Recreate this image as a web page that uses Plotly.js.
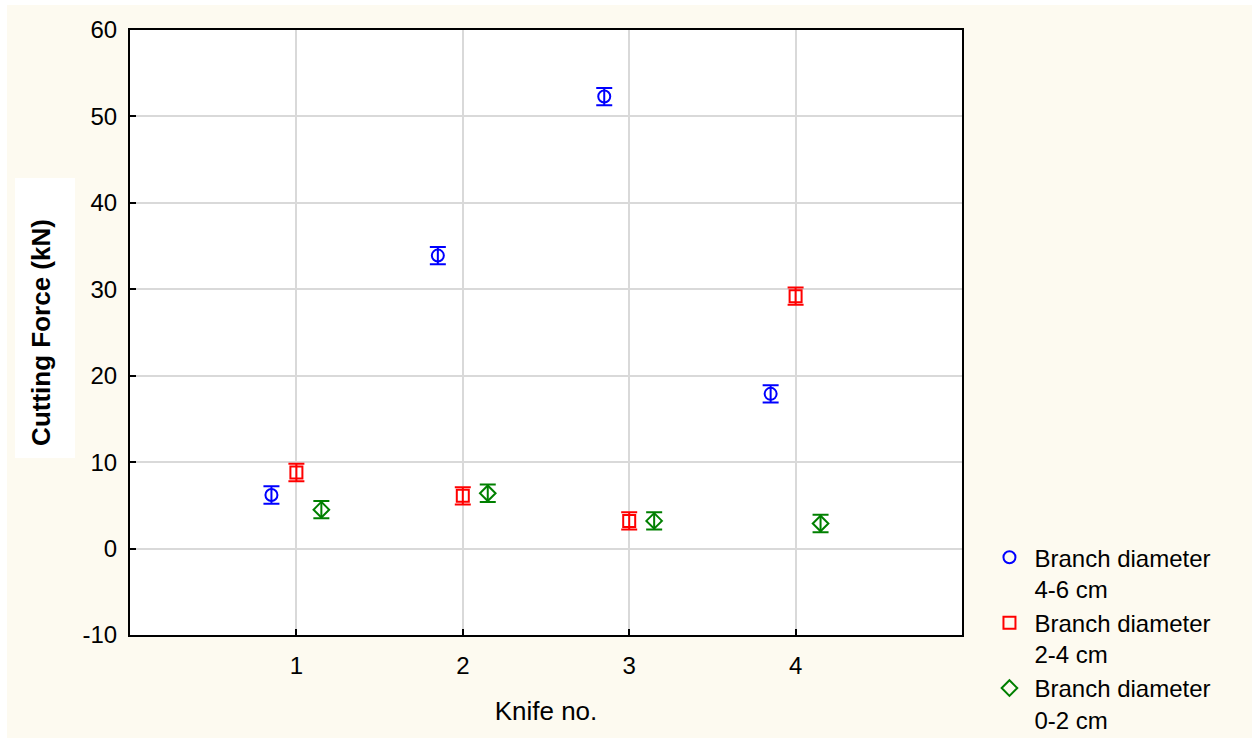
<!DOCTYPE html>
<html>
<head>
<meta charset="utf-8">
<script src="https://cdn.plot.ly/plotly-3.0.1.min.js"></script>
<style>
  html, body { margin: 0; padding: 0; background: #ffffff; width: 1256px; height: 738px; overflow: hidden; }
  #chart { position: absolute; left: 7px; top: 5px; width: 1245px; height: 733px; }
</style>
</head>
<body>
<div id="chart"></div>
<script>
// Data
const knives = [1, 2, 3, 4];
const xTickLabels = ['1', '2', '3', '4'];
const yTickVals = [-10, 0, 10, 20, 30, 40, 50, 60];
const yTickLabels = ['-10', '0', '10', '20', '30', '40', '50', '60'];
const seriesNames = ['Branch diameter<br>4-6 cm', 'Branch diameter<br>2-4 cm', 'Branch diameter<br>0-2 cm'];
const force46 = [6.2, 33.9, 52.3, 17.9];
const force24 = [8.8, 6.1, 3.2, 29.2];
const force02 = [4.5, 6.4, 3.2, 2.9];
const err46 = [1.0, 1.0, 1.0, 1.0];
const err24 = [1.0, 1.0, 1.0, 1.0];
const err02 = [1.0, 1.0, 1.0, 1.0];

const offsets = [-0.15, 0, 0.15];
const colors = ['#0000ff', '#ff0000', '#008000'];
const symbols = ['circle-open', 'square-open', 'diamond-open'];
const values = [force46, force24, force02];
const errs = [err46, err24, err02];

const traces = values.map((v, i) => ({
  type: 'scatter',
  mode: 'markers',
  name: seriesNames[i],
  x: knives.map(k => k + offsets[i]),
  y: v,
  marker: { symbol: symbols[i], size: 12, color: colors[i], line: { width: 2, color: colors[i] } },
  error_y: { type: 'data', array: errs[i], visible: true, color: colors[i], thickness: 2, width: 8 }
}));

const fontFam = 'Arial, "Liberation Sans", sans-serif';

const layout = {
  width: 1245,
  height: 733,
  margin: { l: 123, r: 290, t: 25, b: 103, autoexpand: false },
  paper_bgcolor: '#fdfaf0',
  plot_bgcolor: '#ffffff',
  font: { family: fontFam, color: '#000000', size: 22 },
  showlegend: true,
  legend: {
    x: 1.027, xanchor: 'left',
    y: 0.165, yanchor: 'top',
    bgcolor: 'rgba(0,0,0,0)',
    font: { family: fontFam, size: 24, color: '#000000' },
    valign: 'top',
    tracegroupgap: 0,
    itemwidth: 40
  },
  xaxis: {
    automargin: false,
    range: [0, 5],
    tickvals: knives,
    ticktext: xTickLabels,
    ticks: 'inside',
    ticklen: 6,
    tickwidth: 2,
    tickcolor: '#000000',
    ticklabelstandoff: 8,
    showline: true,
    linecolor: '#000000',
    linewidth: 2,
    mirror: true,
    showgrid: true,
    gridcolor: '#d9d9d9',
    gridwidth: 2,
    zeroline: false,
    tickfont: { size: 24 },
    title: { text: 'Knife no.', font: { size: 26 }, standoff: 24 }
  },
  yaxis: {
    automargin: false,
    range: [-10, 60],
    tickvals: yTickVals,
    ticktext: yTickLabels,
    ticks: 'inside',
    ticklen: 6,
    tickwidth: 2,
    tickcolor: '#000000',
    ticklabelstandoff: 6,
    showline: true,
    linecolor: '#000000',
    linewidth: 2,
    mirror: true,
    showgrid: true,
    gridcolor: '#d9d9d9',
    gridwidth: 2,
    zeroline: false,
    tickfont: { size: 24 },
    title: { text: '<b>Cutting Force (kN)</b>', font: { size: 26 }, standoff: 24 }
  },
  shapes: [{
    type: 'rect', xref: 'paper', yref: 'paper', layer: 'below',
    x0: -0.1382, x1: -0.0661, y0: 0.2926, y1: 0.7554,
    fillcolor: '#ffffff', line: { width: 0 }
  }]
};

Plotly.newPlot('chart', traces, layout, { displayModeBar: false, staticPlot: true });
</script>
</body>
</html>
